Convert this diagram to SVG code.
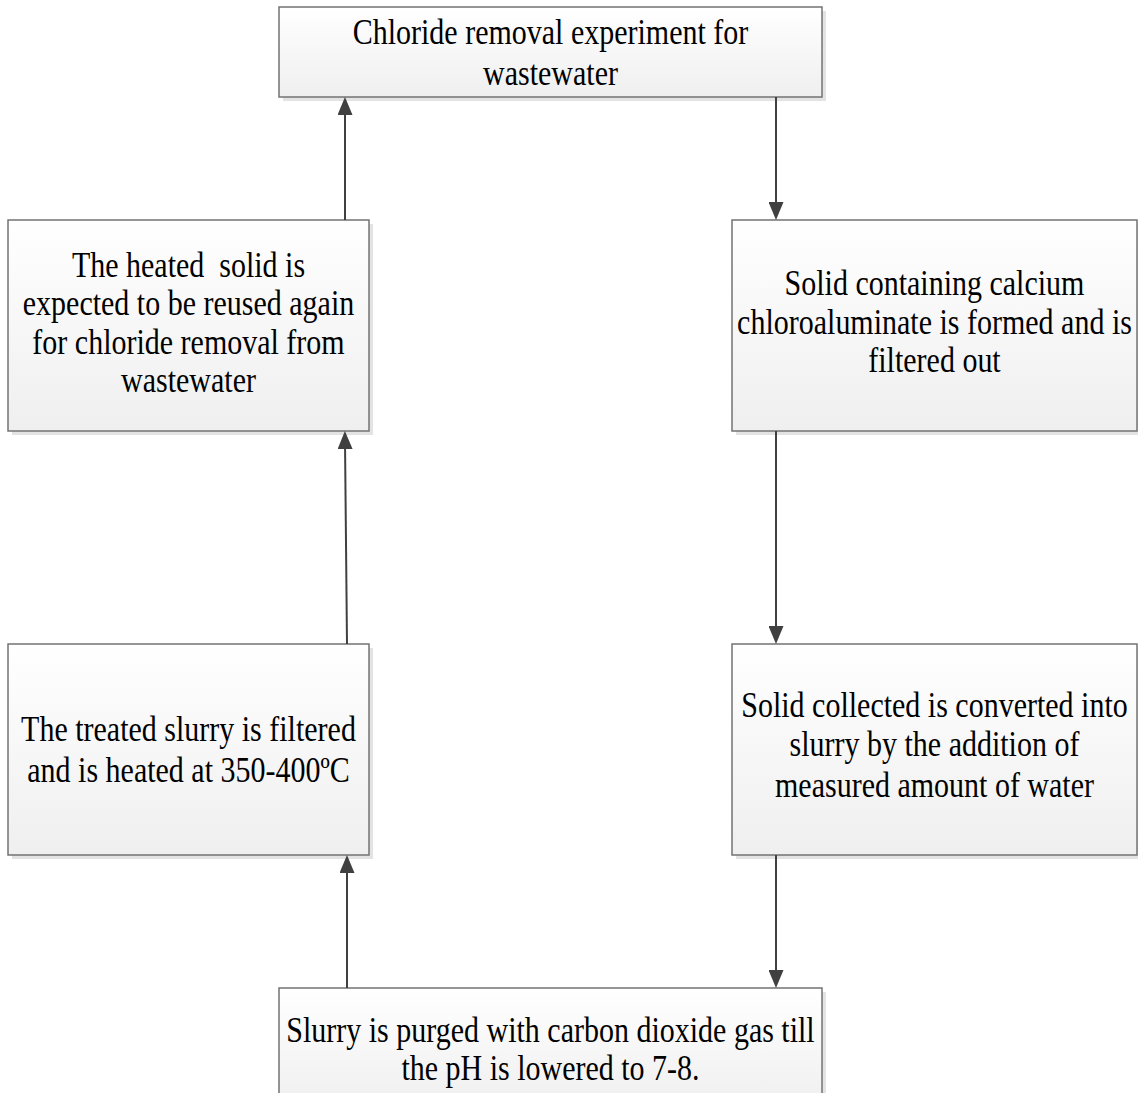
<svg xmlns="http://www.w3.org/2000/svg" width="1138" height="1093" viewBox="0 0 1138 1093">
<style>
.box{fill:url(#g);stroke:#737373;stroke-width:1.5}
.sh{fill:#e3e3e3}
.t{font-family:"Liberation Serif","Times New Roman",serif;font-size:30px;fill:#000;text-anchor:middle;white-space:pre}
.c{stroke:#404040;stroke-width:2;fill:none;marker-end:url(#ah)}
</style>
<defs>
<linearGradient id="g" x1="0" y1="0" x2="0" y2="1">
<stop offset="0" stop-color="#ffffff"/>
<stop offset="1" stop-color="#efefef"/>
</linearGradient>
<marker id="ah" viewBox="0 0 18 15" refX="8" refY="7.5" markerWidth="18" markerHeight="15" markerUnits="userSpaceOnUse" orient="auto">
<path d="M0,0 L18,7.5 L0,15 Z" fill="#404040"/>
</marker>
</defs>
<rect width="1138" height="1093" fill="#fff"/>
<g id="n1">
<rect class="sh" x="283" y="11" width="543" height="90"/>
<rect class="box" x="279" y="7" width="543" height="90"/>
<text class="t" transform="translate(550.5,44) scale(1,1.2)">Chloride removal experiment for</text>
<text class="t" transform="translate(550.5,85) scale(1,1.2)">wastewater</text>
</g>
<g id="n2">
<rect class="sh" x="736" y="224" width="405" height="211"/>
<rect class="box" x="732" y="220" width="405" height="211"/>
<text class="t" transform="translate(934.5,295) scale(1,1.2)">Solid containing calcium</text>
<text class="t" transform="translate(934.5,334) scale(1,1.2)">chloroaluminate is formed and is</text>
<text class="t" transform="translate(934.5,372) scale(1,1.2)">filtered out</text>
</g>
<g id="n3">
<rect class="sh" x="736" y="648" width="405" height="211"/>
<rect class="box" x="732" y="644" width="405" height="211"/>
<text class="t" transform="translate(934.5,717) scale(1,1.2)">Solid collected is converted into</text>
<text class="t" transform="translate(934.5,756) scale(1,1.2)">slurry by the addition of</text>
<text class="t" transform="translate(934.5,797) scale(1,1.2)">measured amount of water</text>
</g>
<g id="n4">
<rect class="sh" x="283" y="992" width="543" height="120"/>
<rect class="box" x="279" y="988" width="543" height="120"/>
<text class="t" transform="translate(550.5,1042) scale(1,1.2)">Slurry is purged with carbon dioxide gas till</text>
<text class="t" transform="translate(550.5,1080) scale(1,1.2)">the pH is lowered to 7-8.</text>
</g>
<g id="n5">
<rect class="sh" x="12" y="648" width="361" height="211"/>
<rect class="box" x="8" y="644" width="361" height="211"/>
<text class="t" transform="translate(188.5,741) scale(1,1.2)">The treated slurry is filtered</text>
<text class="t" transform="translate(188.5,782) scale(1,1.2)">and is heated at 350-400ºC</text>
</g>
<g id="n6">
<rect class="sh" x="12" y="224" width="361" height="211"/>
<rect class="box" x="8" y="220" width="361" height="211"/>
<text class="t" transform="translate(188.5,277) scale(1,1.2)">The heated  solid is</text>
<text class="t" transform="translate(188.5,315) scale(1,1.2)">expected to be reused again</text>
<text class="t" transform="translate(188.5,354) scale(1,1.2)">for chloride removal from</text>
<text class="t" transform="translate(188.5,392) scale(1,1.2)">wastewater</text>
</g>
<g id="connectors">
<path class="c" d="M776,97 L776,210"/>
<path class="c" d="M776,431 L776,634"/>
<path class="c" d="M776,855 L776,978"/>
<path class="c" d="M347,988 L347,865"/>
<path class="c" d="M347,644 L345,441"/>
<path class="c" d="M345,220 L345,107"/>
</g>
</svg>
